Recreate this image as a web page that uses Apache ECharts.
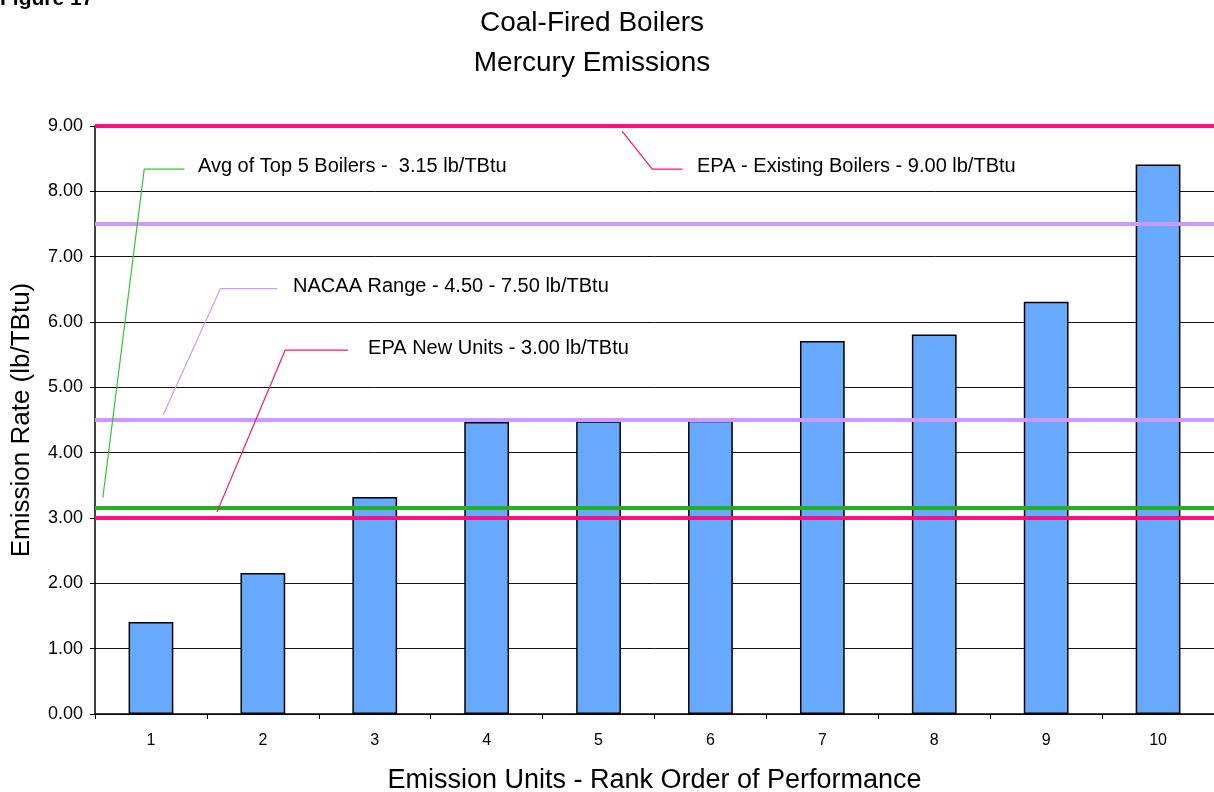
<!DOCTYPE html>
<html>
<head>
<meta charset="utf-8">
<title>Coal-Fired Boilers - Mercury Emissions</title>
<script src="https://cdn.jsdelivr.net/npm/echarts@6/dist/echarts.min.js"></script>
<style>
  html, body { margin: 0; padding: 0; background: #fff; }
  #chart { width: 1214px; height: 792px; }
</style>
</head>
<body>
<div id="chart"></div>
<script>
// Emission units ranked by mercury emission rate (lb/TBtu)
const units = ['1', '2', '3', '4', '5', '6', '7', '8', '9', '10'];
const emissionRates = [1.41, 2.16, 3.32, 4.47, 4.48, 4.49, 5.71, 5.81, 6.31, 8.41];
const yTicks = [0, 1, 2, 3, 4, 5, 6, 7, 8, 9];

// Reference levels
const epaExisting = 9.00;
const nacaaLow = 4.50;
const nacaaHigh = 7.50;
const avgTop5 = 3.15;
const epaNew = 3.00;

// Callout texts
const calloutTexts = [
  'Avg of Top 5 Boilers -  3.15 lb/TBtu',
  'NACAA Range - 4.50 - 7.50 lb/TBtu',
  'EPA New Units - 3.00 lb/TBtu',
  'EPA - Existing Boilers - 9.00 lb/TBtu'
];
// Callout leader paths in (position along the 0..10 unit axis, lb/TBtu)
const avgLeader = [[0.07, 3.31], [0.44, 8.34], [0.80, 8.34]];
const nacaaLeader = [[0.61, 4.58], [1.12, 6.51], [1.63, 6.51]];
const newLeader = [[1.09, 3.09], [1.70, 5.57], [2.26, 5.57]];
const existingLeader = [[4.71, 8.92], [4.98, 8.34], [5.25, 8.34]];
const calloutAnchors = [[0.92, 8.38], [1.77, 6.55], [2.44, 5.60], [5.38, 8.38]];

const MAGENTA = '#f7107f';
const LAVENDER = '#cc99ff';
const GREEN = '#22b022';

function refLine(value, color) {
  return { yAxis: value, lineStyle: { color: color, width: 4, type: 'solid' } };
}

function leader(name, pts, color) {
  return {
    name: name, type: 'line', xAxisIndex: 1, data: pts,
    symbol: 'none', silent: true, z: 6,
    lineStyle: { color: color, width: 1.2 }
  };
}

const chart = echarts.init(document.getElementById('chart'), null, { renderer: 'canvas' });

chart.setOption({
  animation: false,
  backgroundColor: '#ffffff',
  textStyle: { fontFamily: 'Liberation Sans, Arial, sans-serif', color: '#000' },
  title: {
    text: 'Coal-Fired Boilers\nMercury Emissions',
    left: 587, top: -2, textAlign: 'center',
    textStyle: {
      fontFamily: 'Liberation Sans, Arial, sans-serif',
      fontSize: 28, fontWeight: 'normal', lineHeight: 40, color: '#000'
    }
  },
  graphic: [{
    type: 'text', left: 0, top: -11,
    style: { text: 'Figure 17', fontSize: 21, fontWeight: 'bold',
             fontFamily: 'Liberation Sans, Arial, sans-serif', fill: '#000' }
  }],
  grid: { left: 95, right: 0, top: 126, bottom: 78, containLabel: false, outerBoundsMode: 'none' },
  xAxis: [{
    type: 'category', data: units,
    name: 'Emission Units - Rank Order of Performance',
    nameLocation: 'middle', nameGap: 53,
    nameTextStyle: { fontSize: 27, color: '#000' },
    axisLine: { lineStyle: { color: '#000', width: 1.5 } },
    axisTick: { show: true, alignWithLabel: false, length: 5, lineStyle: { color: '#000' } },
    axisLabel: { fontSize: 16, color: '#000', margin: 19 }
  }, {
    type: 'value', min: 0, max: 10, show: false
  }],
  yAxis: {
    type: 'value', min: yTicks[0], max: yTicks[yTicks.length - 1], interval: 1,
    name: 'Emission Rate (lb/TBtu)',
    nameLocation: 'middle', nameGap: 60,
    nameTextStyle: { fontSize: 26, color: '#000' },
    axisLine: { show: true, lineStyle: { color: '#000', width: 1.5 } },
    axisTick: { show: true, length: 5, lineStyle: { color: '#000' } },
    axisLabel: { fontSize: 18, color: '#000', margin: 12,
                 formatter: v => v.toFixed(2) },
    splitLine: { show: true, lineStyle: { color: '#111', width: 1 } }
  },
  series: [{
    name: 'Emission Rate', type: 'bar', data: emissionRates,
    barWidth: '40%',
    itemStyle: { color: '#66a9ff', borderColor: '#000', borderWidth: 1.5 },
    z: 2,
    markLine: {
      silent: true, symbol: 'none', label: { show: false }, z: 5,
      data: [
        { yAxis: 9, lineStyle: { color: '#808080', width: 2, type: 'solid' } },
        refLine(epaExisting, MAGENTA),
        refLine(nacaaHigh, LAVENDER),
        refLine(nacaaLow, LAVENDER),
        refLine(avgTop5, GREEN),
        refLine(epaNew, MAGENTA)
      ]
    }
  },
  leader('Avg of Top 5', avgLeader, '#33c433'),
  leader('NACAA Range', nacaaLeader, LAVENDER),
  leader('EPA New Units', newLeader, MAGENTA),
  leader('EPA Existing', existingLeader, MAGENTA),
  {
    name: 'Callouts', type: 'scatter', xAxisIndex: 1, symbolSize: 0, silent: true, z: 7,
    itemStyle: { opacity: 1 },
    data: calloutAnchors.map((p, i) => ({ value: p, text: calloutTexts[i] })),
    label: {
      show: true, position: 'right', distance: 0,
      fontSize: 20, color: '#000', opacity: 1,
      formatter: p => p.data.text
    }
  }]
});
</script>
</body>
</html>
